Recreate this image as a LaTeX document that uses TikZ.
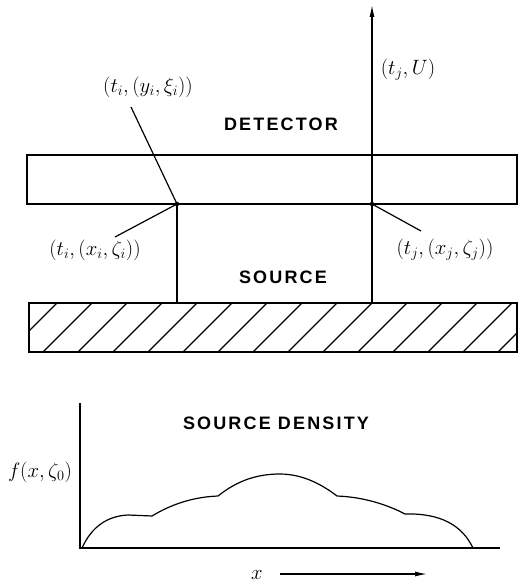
\documentclass[tikz,border=0pt]{standalone}
\usepackage{fontspec}
\newfontfamily\capfont{Liberation Sans}[LetterSpace=12]
\usetikzlibrary{arrows.meta}
\begin{document}
\begin{tikzpicture}[x=1pt,y=-1pt,line width=1.2pt,
  caption/.style={font=\capfont\bfseries\fontsize{18}{21}\selectfont},
  coordlabel/.style={font=\fontsize{22}{26}\selectfont},
  dot/.style={circle,fill,inner sep=1.6pt},
  tip/.style={-{Latex[length=12pt,width=5pt]}}]
\useasboundingbox (0,0) rectangle (518,586);
\draw (27,155) rectangle (517,204);
\draw (29,303) rectangle (517,352);
\begin{scope}
\clip (29,303) rectangle (517,352);
\foreach \h in {8,43,...,518} \draw (\h,352) -- ++(49,-49);
\end{scope}
\node[dot] (pi) at (177,204) {};
\node[dot] (pj) at (372,204) {};
\coordinate (si) at (177,303);
\coordinate (sj) at (372,303);
\coordinate (up) at (372,5);
\draw (si) -- (pi.center);
\draw[tip] (sj) -- (up);
\node[caption] (det) at (281,124) {DETECTOR};
\node[caption] (src) at (283,277) {SOURCE};
\node[coordlabel] (yi) at (148,87) {$(t_i,(y_i,\xi_i))$};
\node[coordlabel] (xi) at (95,250) {$(t_i,(x_i,\zeta_i))$};
\node[coordlabel] (xj) at (445,250) {$(t_j,(x_j,\zeta_j))$};
\node[coordlabel] (tu) at (408,70) {$(t_j,U)$};
\coordinate (lyi) at (131,107);
\coordinate (lxi) at (115,237);
\coordinate (lxj) at (421,231);
\draw (pi.center) -- (lyi);
\draw (pi.center) -- (lxi);
\draw (pj.center) -- (lxj);
\coordinate (ytop) at (80,403);
\coordinate (org) at (80,548);
\coordinate (xend) at (500,548);
\draw (ytop) -- (org) -- (xend);
\node[caption] (dens) at (276,423) {SOURCE DENSITY};
\node[coordlabel] (fx) at (40,472) {$f(x,\zeta_0)$};
\draw (82,548) .. controls (92,526) and (108,516) .. (128,515) -- (152,516)
  .. controls (170,505) and (192,497) .. (218,496)
  .. controls (238,480) and (258,474) .. (280,474)
  .. controls (304,474) and (324,486) .. (337,496)
  .. controls (364,497) and (388,505) .. (405,514)
  .. controls (440,513) and (462,525) .. (473,548);
\node[coordlabel] (xl) at (257,575) {$x$};
\coordinate (xarr) at (427,574);
\draw[tip] (280,574) -- (xarr);
\end{tikzpicture}
\end{document}
